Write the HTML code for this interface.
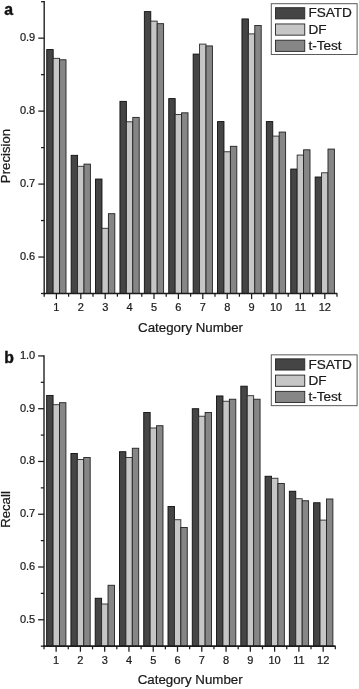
<!DOCTYPE html>
<html lang="en"><head><meta charset="utf-8"><title>Precision and Recall by Category</title>
<style>
html,body{margin:0;padding:0;background:#fff;}
body{width:359px;height:689px;overflow:hidden;}
svg text{stroke:#1a1a1a;stroke-width:0.22px;}
svg{display:block;font-family:"Liberation Sans",Arial,Helvetica,sans-serif;}
</style></head><body>
<svg width="359" height="689" viewBox="0 0 359 689">
<rect width="359" height="689" fill="#fff"/>
<g id="chart-a">
<rect x="46.75" y="49.57" width="6.42" height="243.93" fill="#454545" stroke="#0e0e0e" stroke-width="0.9"/>
<rect x="53.17" y="58.32" width="6.42" height="235.18" fill="#c6c6c6" stroke="#2a2a2a" stroke-width="0.9"/>
<rect x="59.59" y="59.78" width="6.42" height="233.72" fill="#868686" stroke="#222222" stroke-width="0.9"/>
<rect x="71.15" y="155.34" width="6.42" height="138.16" fill="#454545" stroke="#0e0e0e" stroke-width="0.9"/>
<rect x="77.57" y="166.29" width="6.42" height="127.21" fill="#c6c6c6" stroke="#2a2a2a" stroke-width="0.9"/>
<rect x="83.99" y="164.10" width="6.42" height="129.40" fill="#868686" stroke="#222222" stroke-width="0.9"/>
<rect x="95.55" y="179.05" width="6.42" height="114.45" fill="#454545" stroke="#0e0e0e" stroke-width="0.9"/>
<rect x="101.97" y="228.30" width="6.42" height="65.20" fill="#c6c6c6" stroke="#2a2a2a" stroke-width="0.9"/>
<rect x="108.39" y="213.70" width="6.42" height="79.80" fill="#868686" stroke="#222222" stroke-width="0.9"/>
<rect x="119.95" y="101.36" width="6.42" height="192.14" fill="#454545" stroke="#0e0e0e" stroke-width="0.9"/>
<rect x="126.37" y="121.79" width="6.42" height="171.71" fill="#c6c6c6" stroke="#2a2a2a" stroke-width="0.9"/>
<rect x="132.79" y="117.41" width="6.42" height="176.09" fill="#868686" stroke="#222222" stroke-width="0.9"/>
<rect x="144.35" y="11.63" width="6.42" height="281.87" fill="#454545" stroke="#0e0e0e" stroke-width="0.9"/>
<rect x="150.77" y="21.12" width="6.42" height="272.38" fill="#c6c6c6" stroke="#2a2a2a" stroke-width="0.9"/>
<rect x="157.19" y="23.67" width="6.42" height="269.83" fill="#868686" stroke="#222222" stroke-width="0.9"/>
<rect x="168.75" y="98.59" width="6.42" height="194.91" fill="#454545" stroke="#0e0e0e" stroke-width="0.9"/>
<rect x="175.17" y="114.57" width="6.42" height="178.93" fill="#c6c6c6" stroke="#2a2a2a" stroke-width="0.9"/>
<rect x="181.59" y="112.82" width="6.42" height="180.68" fill="#868686" stroke="#222222" stroke-width="0.9"/>
<rect x="193.15" y="54.09" width="6.42" height="239.41" fill="#454545" stroke="#0e0e0e" stroke-width="0.9"/>
<rect x="199.57" y="44.10" width="6.42" height="249.40" fill="#c6c6c6" stroke="#2a2a2a" stroke-width="0.9"/>
<rect x="205.99" y="45.92" width="6.42" height="247.58" fill="#868686" stroke="#222222" stroke-width="0.9"/>
<rect x="217.55" y="121.57" width="6.42" height="171.93" fill="#454545" stroke="#0e0e0e" stroke-width="0.9"/>
<rect x="223.97" y="151.77" width="6.42" height="141.73" fill="#c6c6c6" stroke="#2a2a2a" stroke-width="0.9"/>
<rect x="230.39" y="146.30" width="6.42" height="147.20" fill="#868686" stroke="#222222" stroke-width="0.9"/>
<rect x="241.95" y="18.93" width="6.42" height="274.57" fill="#454545" stroke="#0e0e0e" stroke-width="0.9"/>
<rect x="248.37" y="33.88" width="6.42" height="259.62" fill="#c6c6c6" stroke="#2a2a2a" stroke-width="0.9"/>
<rect x="254.79" y="25.49" width="6.42" height="268.01" fill="#868686" stroke="#222222" stroke-width="0.9"/>
<rect x="266.35" y="121.57" width="6.42" height="171.93" fill="#454545" stroke="#0e0e0e" stroke-width="0.9"/>
<rect x="272.77" y="136.09" width="6.42" height="157.41" fill="#c6c6c6" stroke="#2a2a2a" stroke-width="0.9"/>
<rect x="279.19" y="132.07" width="6.42" height="161.43" fill="#868686" stroke="#222222" stroke-width="0.9"/>
<rect x="290.75" y="169.06" width="6.42" height="124.44" fill="#454545" stroke="#0e0e0e" stroke-width="0.9"/>
<rect x="297.17" y="155.05" width="6.42" height="138.45" fill="#c6c6c6" stroke="#2a2a2a" stroke-width="0.9"/>
<rect x="303.59" y="149.80" width="6.42" height="143.70" fill="#868686" stroke="#222222" stroke-width="0.9"/>
<rect x="315.15" y="177.01" width="6.42" height="116.49" fill="#454545" stroke="#0e0e0e" stroke-width="0.9"/>
<rect x="321.57" y="172.78" width="6.42" height="120.72" fill="#c6c6c6" stroke="#2a2a2a" stroke-width="0.9"/>
<rect x="327.99" y="149.07" width="6.42" height="144.43" fill="#868686" stroke="#222222" stroke-width="0.9"/>
<path d="M44.2 1.1V294.3" stroke="#303030" stroke-width="1.5" fill="none"/>
<path d="M43.45 293.5H337.3" stroke="#1c1c1c" stroke-width="1.7" fill="none"/>
<g stroke="#1c1c1c" stroke-width="1.25" fill="none">
<path d="M38.300000000000004 257.03H44.2"/>
<path d="M38.300000000000004 184.08H44.2"/>
<path d="M38.300000000000004 111.12H44.2"/>
<path d="M38.300000000000004 38.17H44.2"/>
<path d="M41.0 293.50H44.2"/>
<path d="M41.0 220.55H44.2"/>
<path d="M41.0 147.60H44.2"/>
<path d="M41.0 74.65H44.2"/>
<path d="M41.0 1.70H44.2"/>
<path d="M56.40 293.5V299.1"/>
<path d="M80.80 293.5V299.1"/>
<path d="M105.20 293.5V299.1"/>
<path d="M129.60 293.5V299.1"/>
<path d="M154.00 293.5V299.1"/>
<path d="M178.40 293.5V299.1"/>
<path d="M202.80 293.5V299.1"/>
<path d="M227.20 293.5V299.1"/>
<path d="M251.60 293.5V299.1"/>
<path d="M276.00 293.5V299.1"/>
<path d="M300.40 293.5V299.1"/>
<path d="M324.80 293.5V299.1"/>
<path d="M44.20 293.5V296.7"/>
<path d="M68.60 293.5V296.7"/>
<path d="M93.00 293.5V296.7"/>
<path d="M117.40 293.5V296.7"/>
<path d="M141.80 293.5V296.7"/>
<path d="M166.20 293.5V296.7"/>
<path d="M190.60 293.5V296.7"/>
<path d="M215.00 293.5V296.7"/>
<path d="M239.40 293.5V296.7"/>
<path d="M263.80 293.5V296.7"/>
<path d="M288.20 293.5V296.7"/>
<path d="M312.60 293.5V296.7"/>
<path d="M337.00 293.5V296.7"/>
</g>
<g font-size="11" fill="#1a1a1a">
<text x="35.2" y="259.83" text-anchor="end">0.6</text>
<text x="35.2" y="186.88" text-anchor="end">0.7</text>
<text x="35.2" y="113.92" text-anchor="end">0.8</text>
<text x="35.2" y="40.97" text-anchor="end">0.9</text>
<text x="56.40" y="310.7" text-anchor="middle">1</text>
<text x="80.80" y="310.7" text-anchor="middle">2</text>
<text x="105.20" y="310.7" text-anchor="middle">3</text>
<text x="129.60" y="310.7" text-anchor="middle">4</text>
<text x="154.00" y="310.7" text-anchor="middle">5</text>
<text x="178.40" y="310.7" text-anchor="middle">6</text>
<text x="202.80" y="310.7" text-anchor="middle">7</text>
<text x="227.20" y="310.7" text-anchor="middle">8</text>
<text x="251.60" y="310.7" text-anchor="middle">9</text>
<text x="276.00" y="310.7" text-anchor="middle">10</text>
<text x="300.40" y="310.7" text-anchor="middle">11</text>
<text x="324.80" y="310.7" text-anchor="middle">12</text>
</g>
<text x="190.6" y="332.2" text-anchor="middle" font-size="13.3" fill="#1a1a1a">Category Number</text>
<text transform="translate(10.4 156) rotate(-90)" text-anchor="middle" font-size="13.2" fill="#1a1a1a">Precision</text>
<rect x="271.3" y="3.6999999999999997" width="85.8" height="50.8" fill="#fff" stroke="#5a5a5a" stroke-width="1"/>
<rect x="275.45" y="7.70" width="29.3" height="11.2" fill="#454545" stroke="#262626" stroke-width="0.9"/>
<text x="308.4" y="17.40" font-size="13.6" fill="#1a1a1a">FSATD</text>
<rect x="275.45" y="23.95" width="29.3" height="11.2" fill="#c6c6c6" stroke="#262626" stroke-width="0.9"/>
<text x="308.4" y="33.65" font-size="13.6" fill="#1a1a1a">DF</text>
<rect x="275.45" y="40.20" width="29.3" height="11.2" fill="#868686" stroke="#262626" stroke-width="0.9"/>
<text x="308.4" y="49.90" font-size="13.6" fill="#1a1a1a">t-Test</text>
<text x="4.2" y="14.6" font-size="15.8" font-weight="bold" fill="#111" style="stroke:#111;stroke-width:0.4px">a</text>
</g>
<g id="chart-b">
<rect x="46.65" y="395.42" width="6.42" height="250.73" fill="#454545" stroke="#0e0e0e" stroke-width="0.9"/>
<rect x="53.07" y="404.71" width="6.42" height="241.44" fill="#c6c6c6" stroke="#2a2a2a" stroke-width="0.9"/>
<rect x="59.49" y="402.70" width="6.42" height="243.45" fill="#868686" stroke="#222222" stroke-width="0.9"/>
<rect x="70.92" y="453.46" width="6.42" height="192.69" fill="#454545" stroke="#0e0e0e" stroke-width="0.9"/>
<rect x="77.34" y="459.48" width="6.42" height="186.67" fill="#c6c6c6" stroke="#2a2a2a" stroke-width="0.9"/>
<rect x="83.76" y="457.47" width="6.42" height="188.68" fill="#868686" stroke="#222222" stroke-width="0.9"/>
<rect x="95.19" y="598.25" width="6.42" height="47.90" fill="#454545" stroke="#0e0e0e" stroke-width="0.9"/>
<rect x="101.61" y="604.00" width="6.42" height="42.15" fill="#c6c6c6" stroke="#2a2a2a" stroke-width="0.9"/>
<rect x="108.03" y="585.27" width="6.42" height="60.88" fill="#868686" stroke="#222222" stroke-width="0.9"/>
<rect x="119.46" y="451.72" width="6.42" height="194.43" fill="#454545" stroke="#0e0e0e" stroke-width="0.9"/>
<rect x="125.88" y="457.47" width="6.42" height="188.68" fill="#c6c6c6" stroke="#2a2a2a" stroke-width="0.9"/>
<rect x="132.30" y="448.24" width="6.42" height="197.91" fill="#868686" stroke="#222222" stroke-width="0.9"/>
<rect x="143.73" y="412.47" width="6.42" height="233.68" fill="#454545" stroke="#0e0e0e" stroke-width="0.9"/>
<rect x="150.15" y="427.98" width="6.42" height="218.17" fill="#c6c6c6" stroke="#2a2a2a" stroke-width="0.9"/>
<rect x="156.57" y="425.71" width="6.42" height="220.44" fill="#868686" stroke="#222222" stroke-width="0.9"/>
<rect x="168.00" y="506.49" width="6.42" height="139.66" fill="#454545" stroke="#0e0e0e" stroke-width="0.9"/>
<rect x="174.42" y="519.73" width="6.42" height="126.42" fill="#c6c6c6" stroke="#2a2a2a" stroke-width="0.9"/>
<rect x="180.84" y="527.49" width="6.42" height="118.66" fill="#868686" stroke="#222222" stroke-width="0.9"/>
<rect x="192.27" y="408.72" width="6.42" height="237.43" fill="#454545" stroke="#0e0e0e" stroke-width="0.9"/>
<rect x="198.69" y="416.21" width="6.42" height="229.94" fill="#c6c6c6" stroke="#2a2a2a" stroke-width="0.9"/>
<rect x="205.11" y="412.47" width="6.42" height="233.68" fill="#868686" stroke="#222222" stroke-width="0.9"/>
<rect x="216.54" y="395.95" width="6.42" height="250.20" fill="#454545" stroke="#0e0e0e" stroke-width="0.9"/>
<rect x="222.96" y="401.23" width="6.42" height="244.92" fill="#c6c6c6" stroke="#2a2a2a" stroke-width="0.9"/>
<rect x="229.38" y="399.22" width="6.42" height="246.93" fill="#868686" stroke="#222222" stroke-width="0.9"/>
<rect x="240.81" y="386.19" width="6.42" height="259.96" fill="#454545" stroke="#0e0e0e" stroke-width="0.9"/>
<rect x="247.23" y="395.69" width="6.42" height="250.46" fill="#c6c6c6" stroke="#2a2a2a" stroke-width="0.9"/>
<rect x="253.65" y="399.22" width="6.42" height="246.93" fill="#868686" stroke="#222222" stroke-width="0.9"/>
<rect x="265.08" y="476.26" width="6.42" height="169.89" fill="#454545" stroke="#0e0e0e" stroke-width="0.9"/>
<rect x="271.50" y="478.26" width="6.42" height="167.89" fill="#c6c6c6" stroke="#2a2a2a" stroke-width="0.9"/>
<rect x="277.92" y="483.49" width="6.42" height="162.66" fill="#868686" stroke="#222222" stroke-width="0.9"/>
<rect x="289.35" y="491.24" width="6.42" height="154.91" fill="#454545" stroke="#0e0e0e" stroke-width="0.9"/>
<rect x="295.77" y="498.73" width="6.42" height="147.42" fill="#c6c6c6" stroke="#2a2a2a" stroke-width="0.9"/>
<rect x="302.19" y="500.74" width="6.42" height="145.41" fill="#868686" stroke="#222222" stroke-width="0.9"/>
<rect x="313.62" y="502.74" width="6.42" height="143.41" fill="#454545" stroke="#0e0e0e" stroke-width="0.9"/>
<rect x="320.04" y="520.10" width="6.42" height="126.05" fill="#c6c6c6" stroke="#2a2a2a" stroke-width="0.9"/>
<rect x="326.46" y="499.00" width="6.42" height="147.15" fill="#868686" stroke="#222222" stroke-width="0.9"/>
<path d="M44.0 355.34999999999997V646.9499999999999" stroke="#303030" stroke-width="1.5" fill="none"/>
<path d="M43.25 646.15H335.6" stroke="#1c1c1c" stroke-width="1.7" fill="none"/>
<g stroke="#1c1c1c" stroke-width="1.25" fill="none">
<path d="M38.1 619.77H44.0"/>
<path d="M38.1 567.00H44.0"/>
<path d="M38.1 514.24H44.0"/>
<path d="M38.1 461.48H44.0"/>
<path d="M38.1 408.71H44.0"/>
<path d="M38.1 355.95H44.0"/>
<path d="M40.8 646.15H44.0"/>
<path d="M40.8 593.39H44.0"/>
<path d="M40.8 540.62H44.0"/>
<path d="M40.8 487.86H44.0"/>
<path d="M40.8 435.10H44.0"/>
<path d="M40.8 382.33H44.0"/>
<path d="M56.14 646.15V651.75"/>
<path d="M80.41 646.15V651.75"/>
<path d="M104.69 646.15V651.75"/>
<path d="M128.96 646.15V651.75"/>
<path d="M153.24 646.15V651.75"/>
<path d="M177.51 646.15V651.75"/>
<path d="M201.79 646.15V651.75"/>
<path d="M226.06 646.15V651.75"/>
<path d="M250.34 646.15V651.75"/>
<path d="M274.61 646.15V651.75"/>
<path d="M298.89 646.15V651.75"/>
<path d="M323.16 646.15V651.75"/>
<path d="M44.00 646.15V649.35"/>
<path d="M68.28 646.15V649.35"/>
<path d="M92.55 646.15V649.35"/>
<path d="M116.83 646.15V649.35"/>
<path d="M141.10 646.15V649.35"/>
<path d="M165.38 646.15V649.35"/>
<path d="M189.65 646.15V649.35"/>
<path d="M213.93 646.15V649.35"/>
<path d="M238.20 646.15V649.35"/>
<path d="M262.48 646.15V649.35"/>
<path d="M286.75 646.15V649.35"/>
<path d="M311.03 646.15V649.35"/>
<path d="M335.30 646.15V649.35"/>
</g>
<g font-size="11" fill="#1a1a1a">
<text x="35.2" y="622.57" text-anchor="end">0.5</text>
<text x="35.2" y="569.80" text-anchor="end">0.6</text>
<text x="35.2" y="517.04" text-anchor="end">0.7</text>
<text x="35.2" y="464.28" text-anchor="end">0.8</text>
<text x="35.2" y="411.51" text-anchor="end">0.9</text>
<text x="35.2" y="358.75" text-anchor="end">1.0</text>
<text x="56.14" y="663.5" text-anchor="middle">1</text>
<text x="80.41" y="663.5" text-anchor="middle">2</text>
<text x="104.69" y="663.5" text-anchor="middle">3</text>
<text x="128.96" y="663.5" text-anchor="middle">4</text>
<text x="153.24" y="663.5" text-anchor="middle">5</text>
<text x="177.51" y="663.5" text-anchor="middle">6</text>
<text x="201.79" y="663.5" text-anchor="middle">7</text>
<text x="226.06" y="663.5" text-anchor="middle">8</text>
<text x="250.34" y="663.5" text-anchor="middle">9</text>
<text x="274.61" y="663.5" text-anchor="middle">10</text>
<text x="298.89" y="663.5" text-anchor="middle">11</text>
<text x="323.16" y="663.5" text-anchor="middle">12</text>
</g>
<text x="190.2" y="684.3" text-anchor="middle" font-size="13.3" fill="#1a1a1a">Category Number</text>
<text transform="translate(10.4 509.5) rotate(-90)" text-anchor="middle" font-size="13.2" fill="#1a1a1a">Recall</text>
<rect x="271.3" y="354.85" width="85.8" height="50.8" fill="#fff" stroke="#5a5a5a" stroke-width="1"/>
<rect x="275.45" y="358.85" width="29.3" height="11.2" fill="#454545" stroke="#262626" stroke-width="0.9"/>
<text x="308.4" y="368.55" font-size="13.6" fill="#1a1a1a">FSATD</text>
<rect x="275.45" y="375.10" width="29.3" height="11.2" fill="#c6c6c6" stroke="#262626" stroke-width="0.9"/>
<text x="308.4" y="384.80" font-size="13.6" fill="#1a1a1a">DF</text>
<rect x="275.45" y="391.35" width="29.3" height="11.2" fill="#868686" stroke="#262626" stroke-width="0.9"/>
<text x="308.4" y="401.05" font-size="13.6" fill="#1a1a1a">t-Test</text>
<text x="4.3" y="362.6" font-size="15.8" font-weight="bold" fill="#111" style="stroke:#111;stroke-width:0.4px">b</text>
</g>
</svg>
</body></html>
